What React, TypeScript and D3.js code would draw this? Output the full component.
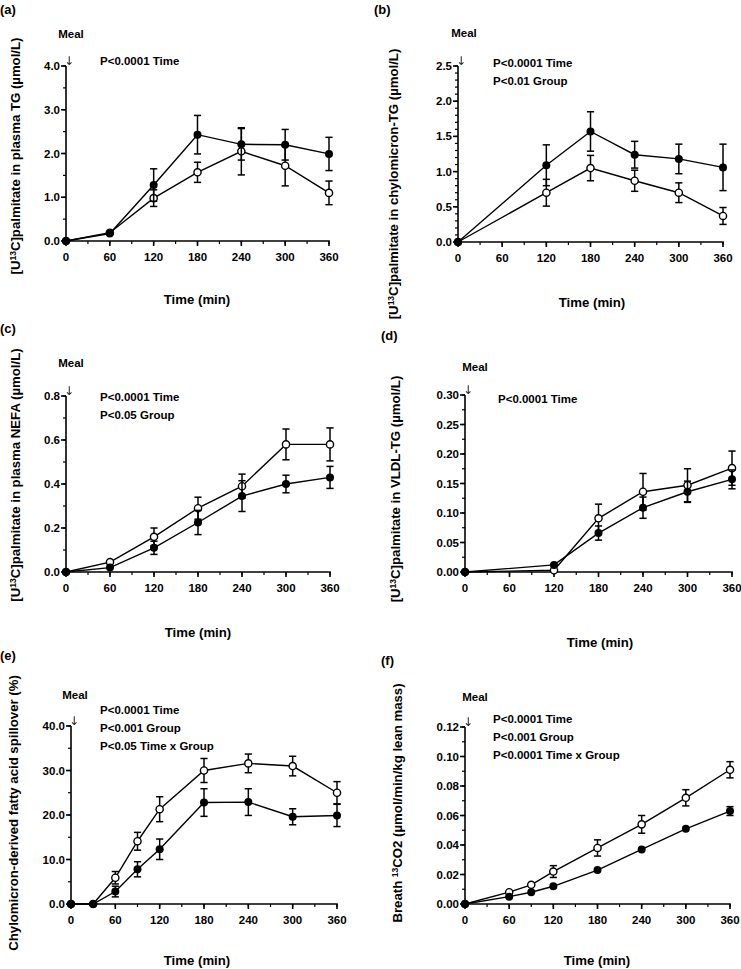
import React from "react";
import * as d3 from "d3";

// ---------- data ----------
const timeA = [0, 60, 120, 180, 240, 300, 360];
const aClosed = [0, 0.17, 1.28, 2.43, 2.21, 2.2, 1.99];
const aClosedSE = [0, 0.03, 0.37, 0.44, 0.36, 0.35, 0.38];
const aOpen = [0, 0.19, 0.98, 1.57, 2.05, 1.72, 1.1];
const aOpenSE = [0, 0.03, 0.19, 0.23, 0.54, 0.46, 0.27];

const timeB = [0, 120, 180, 240, 300, 360];
const bClosed = [0, 1.09, 1.57, 1.24, 1.18, 1.06];
const bClosedSE = [0, 0.29, 0.28, 0.19, 0.21, 0.33];
const bOpen = [0, 0.7, 1.05, 0.87, 0.7, 0.37];
const bOpenSE = [0, 0.19, 0.18, 0.15, 0.14, 0.12];

const timeC = [0, 60, 120, 180, 240, 300, 360];
const cClosed = [0, 0.02, 0.11, 0.225, 0.345, 0.4, 0.43];
const cClosedSE = [0, 0.005, 0.03, 0.055, 0.07, 0.04, 0.05];
const cOpen = [0, 0.045, 0.16, 0.29, 0.39, 0.58, 0.58];
const cOpenSE = [0, 0.005, 0.04, 0.05, 0.055, 0.07, 0.075];

const timeD = [0, 120, 180, 240, 300, 360];
const dClosed = [0, 0.012, 0.066, 0.109, 0.136, 0.157];
const dClosedSE = [0, 0.006, 0.012, 0.018, 0.018, 0.016];
const dOpen = [0, 0.003, 0.091, 0.136, 0.147, 0.176];
const dOpenSE = [0, 0.002, 0.024, 0.031, 0.028, 0.029];

const timeE = [0, 30, 60, 90, 120, 180, 240, 300, 360];
const eClosed = [0, 0, 2.8, 7.8, 12.3, 22.8, 22.9, 19.6, 19.9];
const eClosedSE = [0, 0, 1.2, 1.7, 2.3, 3.1, 3.0, 1.8, 2.5];
const eOpen = [0, 0, 5.9, 14.1, 21.3, 30.0, 31.6, 31.0, 25.0];
const eOpenSE = [0, 0, 1.4, 2.0, 2.8, 2.7, 2.1, 2.2, 2.5];

const timeF = [0, 60, 90, 120, 180, 240, 300, 360];
const fClosed = [0, 0.005, 0.008, 0.012, 0.023, 0.037, 0.051, 0.063];
const fClosedSE = [0, 0.0005, 0.0005, 0.001, 0.001, 0.0015, 0.0015, 0.003];
const fOpen = [0, 0.008, 0.013, 0.022, 0.038, 0.054, 0.072, 0.091];
const fOpenSE = [0, 0.0005, 0.001, 0.004, 0.0055, 0.006, 0.0055, 0.0055];

const xTickValues = [0, 60, 120, 180, 240, 300, 360];

const pA = ["P<0.0001 Time"];
const pB = ["P<0.0001 Time", "P<0.01 Group"];
const pC = ["P<0.0001 Time", "P<0.05 Group"];
const pD = ["P<0.0001 Time"];
const pE = ["P<0.0001 Time", "P<0.001 Group", "P<0.05 Time x Group"];
const pF = ["P<0.0001 Time", "P<0.001 Group", "P<0.0001 Time x Group"];

// ---------- layout ----------
const FONT = "'Liberation Sans', Arial, Helvetica, sans-serif";

type Cfg = {
  tag: string; tagX: number; tagY: number;
  x0: number; x1: number; y0: number; y1: number;
  yMax: number; yMajor: number; yMinor: number; yDec: number;
  yTitle: [string, string, string];
  yTitleX: number; yTitleY: number;
  xTitleX: number; xTitleY: number;
  mealX: number; mealY: number;
  pX: number; pY: number;
  pTexts: string[];
  time: number[]; closed: number[]; closedSE: number[]; open: number[]; openSE: number[];
};

const panels: Cfg[] = [
  {
    tag: "(a)", tagX: 0, tagY: 14,
    x0: 66, x1: 329, y0: 241, y1: 66,
    yMax: 4, yMajor: 1, yMinor: 0.5, yDec: 1,
    yTitle: ["[U", "13", "C]palmitate in plasma TG (µmol/L)"],
    yTitleX: 20, yTitleY: 156, xTitleX: 197, xTitleY: 304,
    mealX: 71, mealY: 38, pX: 100, pY: 65, pTexts: pA,
    time: timeA, closed: aClosed, closedSE: aClosedSE, open: aOpen, openSE: aOpenSE,
  },
  {
    tag: "(b)", tagX: 374, tagY: 14,
    x0: 458, x1: 723, y0: 242, y1: 66,
    yMax: 2.5, yMajor: 0.5, yMinor: 0.1, yDec: 1,
    yTitle: ["[U", "13", "C]palmitate in chylomicron-TG (µmol/L)"],
    yTitleX: 398, yTitleY: 184, xTitleX: 592, xTitleY: 307,
    mealX: 464, mealY: 37, pX: 493, pY: 67, pTexts: pB,
    time: timeB, closed: bClosed, closedSE: bClosedSE, open: bOpen, openSE: bOpenSE,
  },
  {
    tag: "(c)", tagX: 0, tagY: 333,
    x0: 66, x1: 330, y0: 572, y1: 396,
    yMax: 0.8, yMajor: 0.2, yMinor: 0.1, yDec: 1,
    yTitle: ["[U", "13", "C]palmitate in plasma NEFA (µmol/L)"],
    yTitleX: 20, yTitleY: 475, xTitleX: 198, xTitleY: 637,
    mealX: 71, mealY: 367, pX: 100, pY: 401, pTexts: pC,
    time: timeC, closed: cClosed, closedSE: cClosedSE, open: cOpen, openSE: cOpenSE,
  },
  {
    tag: "(d)", tagX: 381, tagY: 340,
    x0: 465, x1: 732, y0: 572, y1: 395,
    yMax: 0.3, yMajor: 0.05, yMinor: 0.025, yDec: 2,
    yTitle: ["[U", "13", "C]palmitate in VLDL-TG (µmol/L)"],
    yTitleX: 400, yTitleY: 489, xTitleX: 600, xTitleY: 647,
    mealX: 475, mealY: 371, pX: 498, pY: 403, pTexts: pD,
    time: timeD, closed: dClosed, closedSE: dClosedSE, open: dOpen, openSE: dOpenSE,
  },
  {
    tag: "(e)", tagX: 0, tagY: 660,
    x0: 71, x1: 337, y0: 904, y1: 726,
    yMax: 40, yMajor: 10, yMinor: 5, yDec: 1,
    yTitle: ["Chylomicron-derived fatty acid spillover (%)", "", ""],
    yTitleX: 18, yTitleY: 813, xTitleX: 197, xTitleY: 965,
    mealX: 75, mealY: 699, pX: 100, pY: 714, pTexts: pE,
    time: timeE, closed: eClosed, closedSE: eClosedSE, open: eOpen, openSE: eOpenSE,
  },
  {
    tag: "(f)", tagX: 381, tagY: 665,
    x0: 465, x1: 730, y0: 904, y1: 727,
    yMax: 0.12, yMajor: 0.02, yMinor: 0.01, yDec: 2,
    yTitle: ["Breath ", "13", "CO2 (µmol/min/kg lean mass)"],
    yTitleX: 402, yTitleY: 803, xTitleX: 597, xTitleY: 965,
    mealX: 475, mealY: 701, pX: 493, pY: 723, pTexts: pF,
    time: timeF, closed: fClosed, closedSE: fClosedSE, open: fOpen, openSE: fOpenSE,
  },
];

const R = 3.6;
const CAP = 3.6;

function Series({ xs, ys, se, x, y, filled }: any) {
  const line = d3.line<number>().x((_, i) => x(xs[i])).y((v) => y(v));
  return (
    <g>
      <path d={line(ys) || ""} fill="none" stroke="#000" strokeWidth={1.4} />
      {ys.map((v: number, i: number) => {
        const cx = x(xs[i]);
        const top = y(v + se[i]);
        const bot = y(v - se[i]);
        if (y(v) - top < R + 0.5) return null;
        return (
          <g key={"e" + i} stroke="#000" strokeWidth={1.5}>
            <line x1={cx} x2={cx} y1={top} y2={bot} />
            <line x1={cx - CAP} x2={cx + CAP} y1={top} y2={top} />
            <line x1={cx - CAP} x2={cx + CAP} y1={bot} y2={bot} />
          </g>
        );
      })}
      {ys.map((v: number, i: number) => (
        <circle
          key={"c" + i}
          cx={x(xs[i])}
          cy={y(v)}
          r={filled ? R + 0.4 : R}
          fill={filled ? "#000" : "#fff"}
          stroke="#000"
          strokeWidth={filled ? 0 : 1.4}
        />
      ))}
    </g>
  );
}

function Panel({ c }: { c: Cfg }) {
  const x = d3.scaleLinear().domain([0, 360]).range([c.x0, c.x1]);
  const y = d3.scaleLinear().domain([0, c.yMax]).range([c.y0, c.y1]);
  const nMajor = Math.round(c.yMax / c.yMajor);
  const yMajors = d3.range(0, nMajor + 1).map((i) => i * c.yMajor);
  const nMinor = Math.round(c.yMax / c.yMinor);
  const yMinors = d3.range(0, nMinor + 1).map((i) => i * c.yMinor);
  const xMinors = d3.range(0, 13).map((i) => i * 30);
  const fmt = d3.format(`.${c.yDec}f`);
  return (
    <g fontFamily={FONT} fontWeight="bold" fill="#000">
      <text x={c.tagX} y={c.tagY} fontSize={13}>{c.tag}</text>
      <g stroke="#000" strokeWidth={1.6}>
        <line x1={c.x0} x2={c.x0} y1={c.y0 + 0.8} y2={c.y1} />
        <line x1={c.x0} x2={c.x1 + 0.8} y1={c.y0} y2={c.y0} />
        {yMinors.map((v, i) => (
          <line key={"ym" + i} x1={c.x0 - 3} x2={c.x0} y1={y(v)} y2={y(v)} strokeWidth={1.2} />
        ))}
        {yMajors.map((v, i) => (
          <line key={"yM" + i} x1={c.x0 - 5} x2={c.x0} y1={y(v)} y2={y(v)} />
        ))}
        {xMinors.map((v, i) => (
          <line key={"xm" + i} x1={x(v)} x2={x(v)} y1={c.y0} y2={c.y0 + 3} strokeWidth={1.2} />
        ))}
        {xTickValues.map((v, i) => (
          <line key={"xM" + i} x1={x(v)} x2={x(v)} y1={c.y0} y2={c.y0 + 5} />
        ))}
      </g>
      <g fontSize={11.5}>
        {yMajors.map((v, i) => (
          <text key={"yl" + i} x={c.x0 - 6} y={y(v) + 4} textAnchor="end">{fmt(v)}</text>
        ))}
        {xTickValues.map((v, i) => (
          <text key={"xl" + i} x={x(v)} y={c.y0 + 20} textAnchor="middle">{v}</text>
        ))}
        <text x={c.mealX} y={c.mealY} textAnchor="middle">Meal</text>
        {c.pTexts.map((t, i) => (
          <text key={"p" + i} x={c.pX} y={c.pY + i * 18}>{t}</text>
        ))}
      </g>
      <g fontSize={13.2}>
        <text x={c.xTitleX} y={c.xTitleY} textAnchor="middle">Time (min)</text>
        <text transform={`translate(${c.yTitleX},${c.yTitleY}) rotate(-90)`} textAnchor="middle">
          {c.yTitle[0]}
          {c.yTitle[1] ? (
            <tspan fontSize={8.5} baselineShift="40%">{c.yTitle[1]}</tspan>
          ) : null}
          {c.yTitle[1] ? <tspan>{c.yTitle[2]}</tspan> : null}
        </text>
      </g>
      <g style={{ filter: "grayscale(1)" }}>
        <text
          x={c.x0 + 3}
          y={c.y1 - 1}
          fontSize={12}
          fontWeight="normal"
          fontFamily="'DejaVu Sans', sans-serif"
          textAnchor="middle"
          fill="#222"
        >
          ↓
        </text>
      </g>
      <Series xs={c.time} ys={c.open} se={c.openSE} x={x} y={y} filled={false} />
      <Series xs={c.time} ys={c.closed} se={c.closedSE} x={x} y={y} filled={true} />
    </g>
  );
}

export default function App() {
  return (
    <svg
      width={741}
      height={969}
      viewBox="0 0 741 969"
      style={{ position: "absolute", left: 0, top: 0, background: "#fff" }}
    >
      <rect x={0} y={0} width={741} height={969} fill="#fff" />
      {panels.map((c, i) => (
        <Panel key={i} c={c} />
      ))}
    </svg>
  );
}
